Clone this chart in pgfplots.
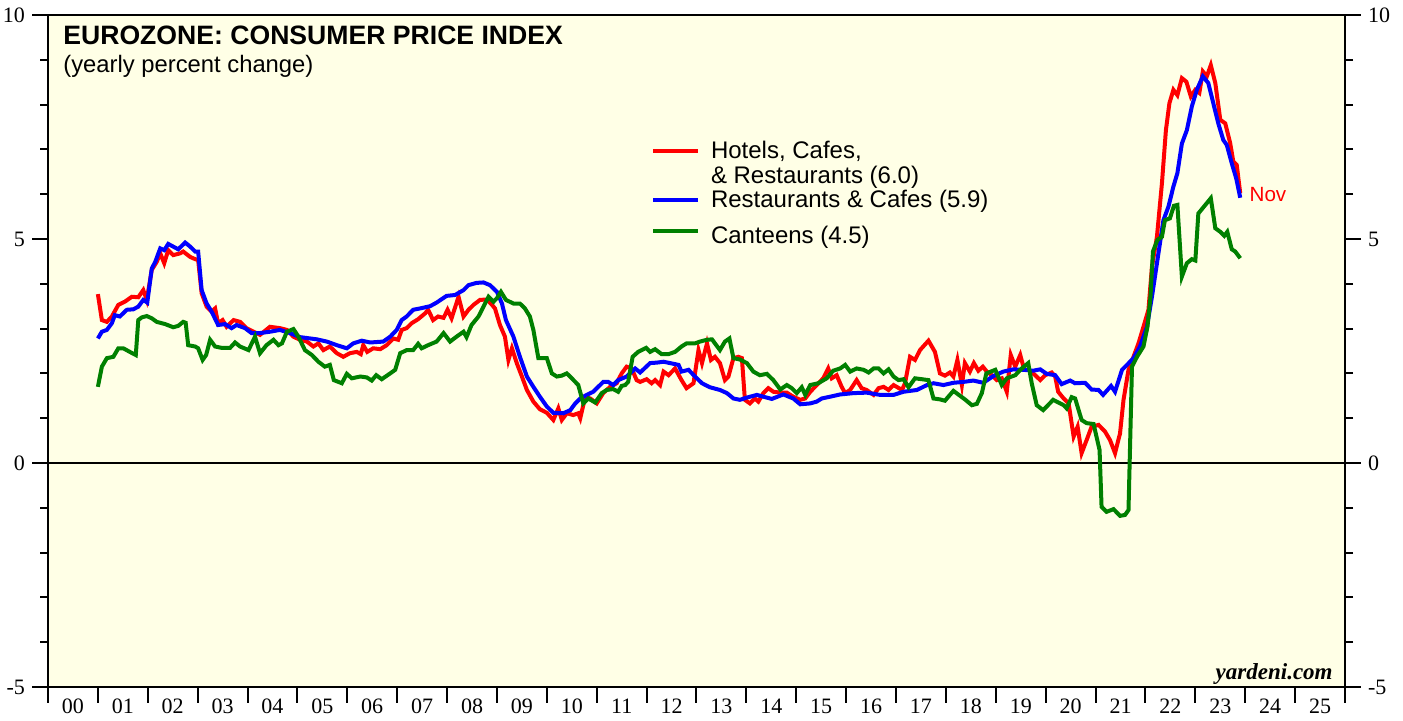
\documentclass[border=0pt]{standalone}
\usepackage{pgfplots}
\pgfplotsset{compat=1.18}
\usepackage{fontspec}
\setmainfont{Liberation Serif}
\newfontfamily\sans{Liberation Sans}
\definecolor{bgyellow}{RGB}{255,255,230}
\definecolor{cgreen}{RGB}{0,128,0}
\newcommand\rs{\rule[-3.6pt]{0pt}{12pt}}
\begin{document}
\begin{tikzpicture}
\useasboundingbox (-24pt,-17pt) rectangle (677.5pt,343.5pt);
\begin{axis}[
  at={(0,0)}, anchor=south west,
  scale only axis, width=648.5pt, height=336pt,
  xmin=2000, xmax=2026, ymin=-5, ymax=10,
  axis background/.style={fill=bgyellow},
  axis line style={line width=1.4pt},
  tick align=outside,
  major tick length=8pt, minor tick length=4pt,
  every tick/.style={black, line width=1pt},
  xtick={2000,2001,...,2025},
  xticklabels={00,01,02,03,04,05,06,07,08,09,10,11,12,13,14,15,16,17,18,19,20,21,22,23,24,25},
  xticklabel style={xshift=12.47pt, yshift=5.5pt, font=\fontsize{11}{12}\selectfont},
  extra x ticks={2026}, extra x tick labels={},
  xtick pos=bottom,
  ytick={-5,0,5,10}, minor ytick={-4,-3,-2,-1,1,2,3,4,6,7,8,9},
  yticklabels={-5,0,5,10},
  yticklabel style={font=\fontsize{11}{12}\selectfont},
  ytick pos=left,
  /pgf/number format/assume math mode=true,
  legend image code/.code={\draw[#1] (0pt,0pt) -- (22.5pt,0pt);},
  legend style={at={(axis cs:2012.08,7.19)}, anchor=north west, draw=none, fill=none,
    inner sep=0pt, font=\sans\fontsize{12}{12}\selectfont, row sep=2pt, column sep=5.5pt,
    nodes={inner sep=0pt}},
  legend cell align=left,
  clip=false,
]
\addplot[black, line width=0.6pt, forget plot] coordinates {(2000,0) (2026,0)};
% Hotels, Cafes & Restaurants
\addplot[red, line width=2pt, forget plot] coordinates {
(2001.00,3.77)(2001.08,3.19)(2001.18,3.15)(2001.28,3.27)(2001.41,3.53)(2001.54,3.60)(2001.68,3.71)(2001.81,3.70)(2001.91,3.86)(2001.98,3.64)
(2002.08,4.31)(2002.18,4.49)(2002.25,4.68)(2002.33,4.46)(2002.41,4.75)(2002.51,4.64)(2002.65,4.68)(2002.71,4.72)(2002.85,4.60)(2002.95,4.55)
(2003.01,4.53)(2003.08,3.79)(2003.18,3.49)(2003.28,3.38)(2003.35,3.45)(2003.41,3.12)(2003.50,3.19)(2003.58,3.04)(2003.72,3.19)(2003.85,3.15)(2003.98,3.01)
(2004.12,2.93)(2004.25,2.86)(2004.45,3.04)(2004.65,3.01)(2004.79,2.97)(2004.92,2.82)
(2005.05,2.75)(2005.19,2.71)(2005.32,2.60)(2005.42,2.67)(2005.52,2.52)(2005.65,2.60)(2005.79,2.45)(2005.92,2.37)
(2006.05,2.45)(2006.19,2.48)(2006.27,2.43)(2006.32,2.63)(2006.40,2.48)(2006.52,2.56)(2006.66,2.54)(2006.79,2.63)(2006.92,2.78)
(2007.02,2.75)(2007.09,2.97)(2007.19,3.01)(2007.29,3.12)(2007.42,3.21)(2007.56,3.34)(2007.62,3.42)(2007.72,3.19)(2007.82,3.27)(2007.93,3.24)
(2008.01,3.42)(2008.09,3.23)(2008.23,3.71)(2008.33,3.27)(2008.43,3.42)(2008.53,3.53)(2008.66,3.64)(2008.80,3.65)(2008.90,3.53)(2008.96,3.45)
(2009.06,3.08)(2009.16,2.82)(2009.23,2.30)(2009.30,2.56)(2009.40,2.22)(2009.50,1.93)(2009.60,1.63)(2009.73,1.37)(2009.86,1.20)
(2010.00,1.12)(2010.13,0.96)(2010.23,1.22)(2010.30,0.96)(2010.40,1.11)(2010.53,1.07)(2010.63,1.11)(2010.67,1.00)(2010.77,1.48)(2010.87,1.44)
(2011.00,1.33)(2011.13,1.56)(2011.27,1.70)(2011.40,1.78)(2011.50,2.00)(2011.60,2.15)(2011.70,2.11)(2011.80,1.85)(2011.87,1.81)
(2012.00,1.87)(2012.10,1.78)(2012.17,1.85)(2012.27,1.74)(2012.34,2.04)(2012.44,1.96)(2012.57,2.11)(2012.70,1.85)(2012.80,1.67)(2012.94,1.78)
(2013.04,2.52)(2013.11,2.23)(2013.21,2.67)(2013.29,2.30)(2013.37,2.37)(2013.47,2.23)(2013.57,1.85)(2013.64,1.93)(2013.74,2.34)(2013.84,2.37)(2013.91,2.34)(2013.97,1.41)
(2014.07,1.33)(2014.17,1.44)(2014.24,1.37)(2014.34,1.56)(2014.44,1.67)(2014.54,1.59)(2014.68,1.57)(2014.81,1.57)(2014.94,1.48)
(2015.08,1.41)(2015.18,1.44)(2015.28,1.59)(2015.41,1.74)(2015.54,1.89)(2015.64,2.11)(2015.71,1.89)(2015.81,1.96)(2015.91,1.70)(2015.98,1.56)
(2016.08,1.63)(2016.21,1.85)(2016.31,1.67)(2016.41,1.63)(2016.55,1.52)(2016.65,1.67)(2016.75,1.70)(2016.85,1.63)(2016.95,1.74)
(2017.12,1.63)(2017.18,1.78)(2017.28,2.37)(2017.38,2.30)(2017.48,2.52)(2017.65,2.73)(2017.78,2.48)(2017.88,2.00)(2017.98,1.95)
(2018.08,2.02)(2018.15,1.93)(2018.23,2.30)(2018.32,1.74)(2018.38,2.23)(2018.48,2.04)(2018.56,2.23)(2018.65,2.06)(2018.74,2.15)(2018.82,2.04)(2018.92,1.96)
(2019.02,1.85)(2019.12,1.89)(2019.22,1.59)(2019.30,2.41)(2019.39,2.15)(2019.49,2.41)(2019.57,2.08)(2019.65,2.08)(2019.79,1.96)(2019.89,1.85)(2019.99,1.96)
(2020.12,2.02)(2020.19,1.93)(2020.25,1.59)(2020.36,1.44)(2020.46,1.33)(2020.56,0.59)(2020.64,0.81)(2020.72,0.22)(2020.82,0.51)(2020.92,0.81)
(2021.06,0.85)(2021.19,0.70)(2021.29,0.51)(2021.39,0.22)(2021.49,0.66)(2021.56,1.41)(2021.66,2.08)(2021.76,2.37)(2021.86,2.67)(2021.96,3.04)
(2022.06,3.42)(2022.13,4.38)(2022.23,5.05)(2022.33,6.24)(2022.41,7.43)(2022.48,8.03)(2022.56,8.33)(2022.64,8.21)(2022.73,8.59)(2022.82,8.51)(2022.91,8.18)
(2023.00,8.33)(2023.08,8.26)(2023.15,8.74)(2023.23,8.63)(2023.31,8.88)(2023.40,8.48)(2023.50,7.66)(2023.60,7.58)(2023.70,7.13)(2023.76,6.73)(2023.83,6.65)(2023.90,6.02)
};
% Restaurants & Cafes
\addplot[blue, line width=2pt, forget plot] coordinates {
(2001.00,2.78)(2001.08,2.93)(2001.18,2.97)(2001.28,3.12)(2001.34,3.30)(2001.44,3.27)(2001.58,3.42)(2001.71,3.43)(2001.81,3.49)(2001.91,3.64)(2001.99,3.58)
(2002.08,4.34)(2002.15,4.49)(2002.25,4.79)(2002.33,4.75)(2002.41,4.89)(2002.51,4.83)(2002.61,4.77)(2002.75,4.92)(2002.85,4.83)(2002.95,4.72)
(2003.01,4.72)(2003.08,3.86)(2003.18,3.56)(2003.28,3.38)(2003.41,3.08)(2003.55,3.10)(2003.68,3.01)(2003.78,3.08)(2003.95,3.01)
(2004.08,2.90)(2004.25,2.90)(2004.45,2.93)(2004.65,2.97)(2004.85,2.90)
(2005.05,2.81)(2005.39,2.76)(2005.59,2.71)(2005.79,2.63)(2005.99,2.56)
(2006.12,2.67)(2006.29,2.73)(2006.46,2.69)(2006.72,2.71)(2006.86,2.82)(2006.99,2.97)
(2007.09,3.19)(2007.19,3.27)(2007.32,3.42)(2007.46,3.45)(2007.66,3.50)(2007.79,3.58)(2007.99,3.73)
(2008.16,3.75)(2008.33,3.86)(2008.43,3.97)(2008.59,4.02)(2008.73,4.03)(2008.86,3.97)(2009.00,3.82)
(2009.10,3.56)(2009.18,3.19)(2009.33,2.82)(2009.46,2.37)(2009.60,1.93)(2009.73,1.70)(2009.86,1.48)
(2010.00,1.26)(2010.13,1.12)(2010.33,1.11)(2010.47,1.18)(2010.57,1.33)(2010.67,1.44)(2010.80,1.52)(2010.93,1.59)
(2011.03,1.70)(2011.13,1.81)(2011.23,1.81)(2011.33,1.74)(2011.43,1.85)(2011.60,1.93)(2011.77,2.11)(2011.87,2.02)
(2012.07,2.23)(2012.20,2.24)(2012.34,2.26)(2012.47,2.23)(2012.64,2.19)(2012.70,2.04)(2012.84,2.08)(2012.97,1.93)
(2013.11,1.78)(2013.27,1.69)(2013.47,1.63)(2013.61,1.56)(2013.74,1.44)(2013.87,1.41)
(2014.01,1.46)(2014.21,1.52)(2014.34,1.48)(2014.51,1.43)(2014.74,1.53)(2014.94,1.44)
(2015.08,1.31)(2015.28,1.33)(2015.41,1.37)(2015.51,1.44)(2015.68,1.48)(2015.88,1.53)
(2016.15,1.56)(2016.41,1.57)(2016.68,1.52)(2016.95,1.52)
(2017.15,1.59)(2017.42,1.63)(2017.62,1.74)(2017.75,1.78)(2017.95,1.74)
(2018.15,1.79)(2018.35,1.81)(2018.55,1.84)(2018.75,1.79)(2018.95,1.94)
(2019.15,2.04)(2019.35,2.09)(2019.55,2.08)(2019.75,2.06)(2019.89,2.09)
(2020.02,1.99)(2020.19,1.96)(2020.32,1.76)(2020.49,1.84)(2020.59,1.78)(2020.79,1.79)(2020.92,1.64)
(2021.06,1.63)(2021.15,1.52)(2021.31,1.72)(2021.39,1.59)(2021.53,2.08)(2021.63,2.19)(2021.76,2.34)(2021.89,2.60)
(2022.03,3.04)(2022.13,3.71)(2022.26,4.68)(2022.36,5.42)(2022.46,5.72)(2022.56,6.17)(2022.64,6.47)(2022.73,7.13)(2022.83,7.43)(2022.93,7.96)
(2023.03,8.33)(2023.15,8.63)(2023.26,8.48)(2023.36,8.03)(2023.46,7.58)(2023.56,7.21)(2023.63,7.10)(2023.73,6.69)(2023.82,6.35)(2023.90,5.92)
};
% Canteens
\addplot[cgreen, line width=2pt, forget plot] coordinates {
(2001.00,1.70)(2001.08,2.15)(2001.18,2.34)(2001.31,2.37)(2001.41,2.56)(2001.51,2.56)(2001.64,2.48)(2001.76,2.41)(2001.81,3.19)(2001.88,3.25)(2001.98,3.28)
(2002.08,3.23)(2002.18,3.15)(2002.35,3.10)(2002.51,3.03)(2002.61,3.06)(2002.71,3.15)(2002.76,3.13)(2002.81,2.63)(2002.95,2.60)
(2003.01,2.56)(2003.10,2.30)(2003.17,2.41)(2003.25,2.75)(2003.35,2.60)(2003.48,2.57)(2003.65,2.57)(2003.75,2.69)(2003.85,2.60)
(2004.02,2.52)(2004.15,2.82)(2004.25,2.45)(2004.38,2.63)(2004.52,2.75)(2004.62,2.63)(2004.69,2.67)(2004.79,2.93)(2004.92,2.99)
(2005.02,2.82)(2005.15,2.52)(2005.29,2.41)(2005.42,2.26)(2005.55,2.15)(2005.65,2.19)(2005.73,1.85)(2005.89,1.78)(2005.99,1.99)
(2006.09,1.89)(2006.26,1.93)(2006.39,1.91)(2006.49,1.84)(2006.58,1.96)(2006.69,1.87)(2006.86,2.00)(2006.96,2.08)
(2007.06,2.45)(2007.19,2.52)(2007.32,2.52)(2007.42,2.66)(2007.49,2.56)(2007.62,2.63)(2007.79,2.71)(2007.93,2.90)
(2008.06,2.71)(2008.19,2.82)(2008.33,2.93)(2008.39,2.81)(2008.49,3.08)(2008.63,3.27)(2008.73,3.49)(2008.83,3.71)(2008.93,3.60)
(2009.00,3.68)(2009.08,3.82)(2009.18,3.64)(2009.33,3.56)(2009.46,3.56)(2009.56,3.45)(2009.66,3.27)(2009.73,2.97)(2009.83,2.34)
(2010.00,2.34)(2010.10,2.00)(2010.20,1.93)(2010.30,1.95)(2010.40,2.00)(2010.50,1.89)(2010.63,1.74)(2010.73,1.33)(2010.83,1.44)(2010.97,1.35)
(2011.10,1.56)(2011.20,1.63)(2011.33,1.65)(2011.43,1.59)(2011.50,1.72)(2011.57,1.74)(2011.63,1.81)(2011.72,2.37)(2011.83,2.48)(2011.99,2.57)
(2012.07,2.48)(2012.17,2.54)(2012.30,2.43)(2012.44,2.43)(2012.57,2.48)(2012.70,2.60)(2012.80,2.67)(2012.97,2.67)
(2013.07,2.71)(2013.21,2.75)(2013.31,2.76)(2013.37,2.67)(2013.47,2.52)(2013.57,2.71)(2013.66,2.78)(2013.74,2.34)(2013.87,2.31)
(2014.01,2.23)(2014.14,2.04)(2014.27,1.96)(2014.41,1.99)(2014.54,1.85)(2014.68,1.64)(2014.81,1.74)(2014.91,1.67)
(2015.01,1.56)(2015.11,1.69)(2015.18,1.52)(2015.28,1.74)(2015.44,1.78)(2015.61,1.89)(2015.74,2.06)(2015.88,2.11)(2015.98,2.19)
(2016.08,2.04)(2016.21,2.11)(2016.35,2.08)(2016.45,2.02)(2016.55,2.11)(2016.65,2.11)(2016.75,2.00)(2016.85,2.09)(2016.95,1.93)
(2017.05,1.85)(2017.15,1.87)(2017.25,1.69)(2017.38,1.89)(2017.52,1.87)(2017.65,1.85)(2017.75,1.44)(2017.88,1.42)(2017.98,1.39)
(2018.15,1.61)(2018.38,1.42)(2018.52,1.29)(2018.62,1.32)(2018.72,1.56)(2018.81,2.00)(2018.99,2.08)
(2019.12,1.74)(2019.22,1.89)(2019.39,1.96)(2019.52,2.11)(2019.65,2.23)(2019.72,1.78)(2019.82,1.29)(2019.95,1.18)
(2020.15,1.41)(2020.36,1.29)(2020.42,1.22)(2020.52,1.47)(2020.59,1.44)(2020.72,0.96)(2020.82,0.89)(2020.96,0.87)
(2021.08,0.29)(2021.12,-0.98)(2021.22,-1.09)(2021.36,-1.03)(2021.49,-1.18)(2021.59,-1.16)(2021.66,-1.05)(2021.73,2.15)(2021.83,2.37)(2021.96,2.60)
(2022.04,3.04)(2022.10,3.71)(2022.15,4.72)(2022.24,4.98)(2022.33,5.05)(2022.39,5.42)(2022.49,5.46)(2022.57,5.74)(2022.64,5.76)(2022.73,4.16)(2022.83,4.46)(2022.93,4.55)
(2023.00,4.52)(2023.06,5.57)(2023.20,5.76)(2023.31,5.91)(2023.40,5.24)(2023.50,5.16)(2023.58,5.07)(2023.64,5.16)(2023.73,4.77)(2023.80,4.72)(2023.90,4.57)
};
\addlegendimage{red, line width=2pt}
\addlegendentry{\rs Hotels, Cafes,}
\addlegendimage{empty legend}
\addlegendentry{\rs\& Restaurants (6.0)}
\addlegendimage{blue, line width=2pt}
\addlegendentry{\rs Restaurants \& Cafes (5.9)}
\addlegendimage{cgreen, line width=2pt}
\addlegendentry{\rule[-3.6pt]{0pt}{18.25pt}Canteens (4.5)}
\node[anchor=west, inner sep=0pt, text=red, font=\sans\fontsize{10.3}{12}\selectfont] at (axis cs:2024.08,6.0) {Nov};
\node[anchor=base west, inner sep=0pt, font=\sans\bfseries\fontsize{13.3}{15}\selectfont] at ([xshift=7.5pt,yshift=-15pt]rel axis cs:0,1) {EUROZONE: CONSUMER PRICE INDEX};
\node[anchor=base west, inner sep=0pt, font=\sans\fontsize{11.9}{14}\selectfont] at ([xshift=7.5pt,yshift=-29pt]rel axis cs:0,1) {(yearly percent change)};
\node[anchor=base east, inner sep=0pt, font=\bfseries\itshape\fontsize{11.5}{13}\selectfont] at ([xshift=-6pt,yshift=3.5pt]rel axis cs:1,0) {yardeni.com};
\end{axis}
\begin{axis}[
  at={(0,0)}, anchor=south west,
  scale only axis, width=648.5pt, height=336pt,
  xmin=2000, xmax=2026, ymin=-5, ymax=10,
  axis x line=none, axis y line*=right,
  axis line style={line width=1.4pt, -},
  tick align=outside,
  major tick length=8pt, minor tick length=4pt,
  every tick/.style={black, line width=1pt},
  ytick={-5,0,5,10}, minor ytick={-4,-3,-2,-1,1,2,3,4,6,7,8,9},
  yticklabels={-5,0,5,10},
  yticklabel style={font=\fontsize{11}{12}\selectfont},
  /pgf/number format/assume math mode=true,
]
\end{axis}
\end{tikzpicture}
\end{document}
